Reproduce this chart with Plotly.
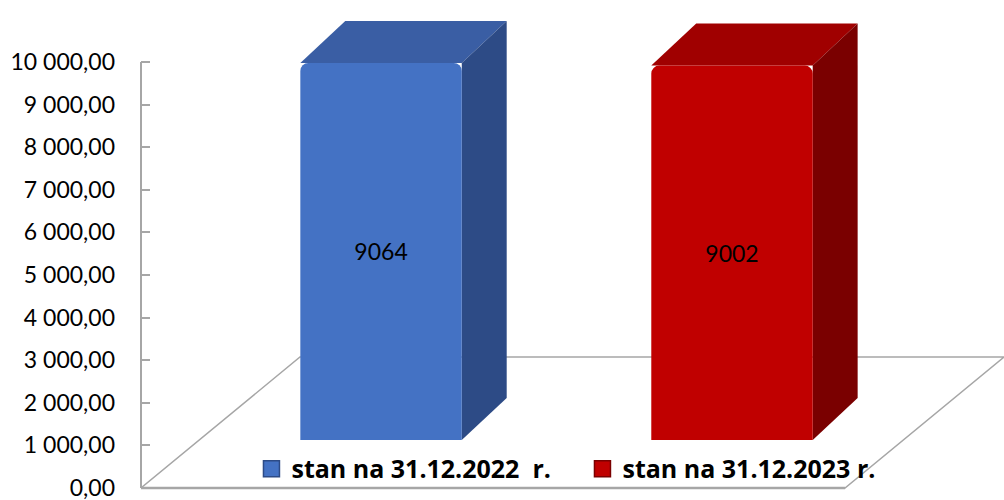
import plotly.graph_objects as go

# ---- data ----
series_names = ["stan na 31.12.2022  r.", "stan na 31.12.2023 r."]
values = [9064, 9002]
front_colors = ["#4472C4", "#C00000"]
top_colors = ["#3A5EA4", "#A00000"]
side_colors = ["#2D4B86", "#7A0000"]
tick_values = list(range(0, 10001, 1000))

# ---- geometry constants (style) ----
positions = [0, 1]
bar_width = 0.46
depth_x = 0.128      # 3D depth in category units
depth_y2 = 1010      # 3D depth in bar-axis value units
floor_depth_x = 0.453
floor_depth_y = 3075
x_range = [-0.684, 1.775]
y_range = [-47, 11221]
y2_range = [-1202, 10338]

FONT = "Lato"

fig = go.Figure()

for name, v, pos, col in zip(series_names, values, positions, front_colors):
    fig.add_trace(go.Bar(
        x=[pos], y=[v], name=name, width=bar_width,
        marker=dict(color=col, line=dict(width=0)),
        text=[str(v)], texttemplate="%{text}",
        textposition="inside", insidetextanchor="middle",
        textfont=dict(family=FONT, size=23, color="black"),
        yaxis="y2", hoverinfo="skip", showlegend=False,
    ))

# legend entries (square keys like the reference)
for name, col, sc in zip(series_names, front_colors, side_colors):
    fig.add_trace(go.Scatter(
        x=[None], y=[None], mode="markers", name=name,
        marker=dict(symbol="square", size=16, color=col,
                    line=dict(color=sc, width=1.5)),
        hoverinfo="skip",
    ))

shapes = []
# floor
fl = x_range[0]
fr = x_range[1] - floor_depth_x
shapes.append(dict(
    type="path", xref="x", yref="y", layer="below",
    path=f"M {fl},0 L {fr},0 L {fr + floor_depth_x},{floor_depth_y} "
         f"L {fl + floor_depth_x},{floor_depth_y} Z",
    line=dict(color="#A6A6A6", width=1.5), fillcolor="rgba(0,0,0,0)"))
shapes.append(dict(type="line", xref="x", yref="y", layer="below",
                   x0=fl, x1=fr, y0=0, y1=0,
                   line=dict(color="#A6A6A6", width=2.5)))
# axis line
shapes.append(dict(type="line", xref="paper", yref="y", layer="below",
                   x0=0, x1=0, y0=0, y1=tick_values[-1],
                   line=dict(color="#A6A6A6", width=2)))

for v, pos, tc, sc in zip(values, positions, top_colors, side_colors):
    x0 = pos - bar_width / 2
    x1 = pos + bar_width / 2
    # top face
    shapes.append(dict(
        type="path", xref="x", yref="y2", layer="below",
        path=f"M {x0},{v} L {x1},{v} L {x1 + depth_x},{v + depth_y2} "
             f"L {x0 + depth_x},{v + depth_y2} Z",
        fillcolor=tc, line=dict(width=0)))
    # side face
    shapes.append(dict(
        type="path", xref="x", yref="y2", layer="below",
        path=f"M {x1},0 L {x1},{v} L {x1 + depth_x},{v + depth_y2} "
             f"L {x1 + depth_x},{depth_y2} Z",
        fillcolor=sc, line=dict(width=0)))

fig.update_layout(
    width=1004, height=500,
    margin=dict(l=141, r=0, t=10, b=10),
    paper_bgcolor="white", plot_bgcolor="white",
    separators=", ",
    barmode="overlay",
    barcornerradius=8,
    shapes=shapes,
    showlegend=True,
    legend=dict(orientation="h", x=0.128, y=0.044, xanchor="left",
                yanchor="middle", entrywidth=286,
                font=dict(family="Open Sans", size=25, color="black",
                          weight="bold"),
                bgcolor="rgba(0,0,0,0)", traceorder="normal"),
    xaxis=dict(range=x_range, visible=False, fixedrange=True),
    yaxis=dict(range=y_range, tickvals=tick_values, tickformat=",.2f",
               showgrid=False, zeroline=False, showline=False,
               ticks="inside", ticklen=9, tickcolor="#A6A6A6", tickwidth=1.5,
               tickfont=dict(family=FONT, size=23, color="black"),
               ticklabelstandoff=25, ticklabeloverflow="allow"),
    yaxis2=dict(range=y2_range, overlaying="y", visible=False),
)

fig.write_html("out.html", config={"displayModeBar": False},
               post_script="document.body.style.margin='0px';")
